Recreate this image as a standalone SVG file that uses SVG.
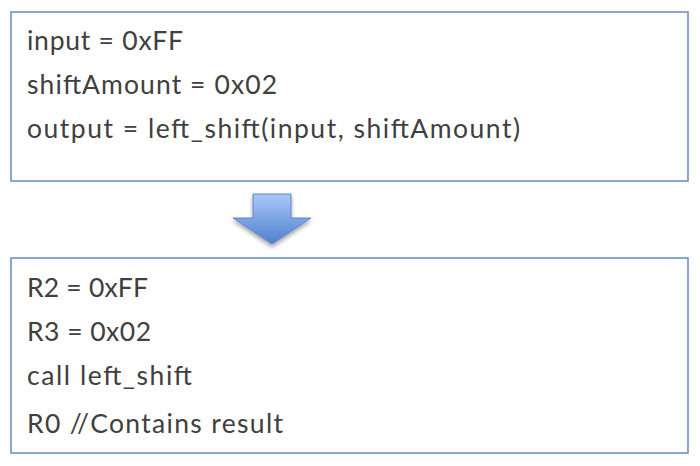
<svg xmlns="http://www.w3.org/2000/svg" width="700" height="466" viewBox="0 0 700 466">
<style>
.box{fill:#ffffff;stroke:#6f90c9;stroke-width:1.6}
.t{font-family:Lato,"Liberation Sans",Arial,sans-serif;font-size:26.5px;fill:#404040}
</style>
<defs>
<linearGradient id="ag" x1="0" y1="0" x2="0" y2="1">
<stop offset="0" stop-color="#a9c8f7"/>
<stop offset="1" stop-color="#4f80d0"/>
</linearGradient>
<filter id="sh" x="-30%" y="-30%" width="160%" height="170%">
<feGaussianBlur in="SourceAlpha" stdDeviation="2"/>
<feOffset dy="3" result="b"/>
<feComponentTransfer><feFuncA type="linear" slope="0.35"/></feComponentTransfer>
<feMerge><feMergeNode/><feMergeNode in="SourceGraphic"/></feMerge>
</filter>
</defs>
<rect width="700" height="466" fill="#ffffff"/>
<g id="node-source">
<rect class="box" x="11" y="12" width="677" height="169"/>
<text class="t" x="27" y="50" textLength="156">input = 0xFF</text>
<text class="t" x="27" y="94" textLength="250">shiftAmount = 0x02</text>
<text class="t" x="27" y="138" textLength="493">output = left_shift(input, shiftAmount)</text>
</g>
<g id="connectors">
<path d="M253,194 L291,194 L291,218 L311,218 L272,244 L233,218 L253,218 Z" fill="url(#ag)" stroke="#5a86cc" stroke-width="1" filter="url(#sh)"/>
</g>
<g id="node-asm">
<rect class="box" x="11" y="258" width="677" height="195"/>
<text class="t" x="27" y="297" textLength="121">R2 = 0xFF</text>
<text class="t" x="27" y="341" textLength="124">R3 = 0x02</text>
<text class="t" x="27" y="385" textLength="165">call left_shift</text>
<text class="t" x="27" y="433" textLength="256">R0 //Contains result</text>
</g>
</svg>
